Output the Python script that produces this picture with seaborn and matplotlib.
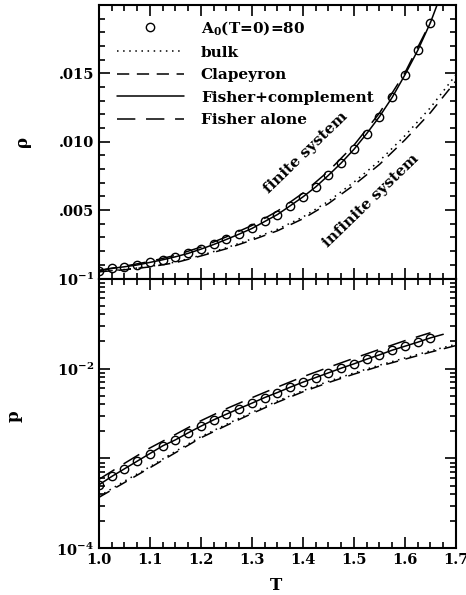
import numpy as np
import pandas as pd
import matplotlib
matplotlib.use("Agg")
import matplotlib.pyplot as plt
import seaborn as sns
from matplotlib.ticker import FixedLocator, MultipleLocator, LogLocator, FuncFormatter, NullFormatter

# ---------------- data ----------------
T_data = [1.000, 1.025, 1.050, 1.075, 1.100, 1.125, 1.150, 1.175, 1.200, 1.225,
          1.250, 1.275, 1.300, 1.325, 1.350, 1.375, 1.400, 1.425, 1.450, 1.475,
          1.500, 1.525, 1.550, 1.575, 1.600, 1.625, 1.650]
rho_data = [0.00057, 0.00074, 0.00086, 0.00099, 0.00118, 0.00137, 0.00159, 0.00184,
            0.00215, 0.00249, 0.00286, 0.00325, 0.00366, 0.00417, 0.00468, 0.00532,
            0.00597, 0.00670, 0.00755, 0.00845, 0.00945, 0.01060, 0.01184, 0.01325,
            0.01490, 0.01668, 0.01872]
p_data = [5.10e-4, 6.31e-4, 7.68e-4, 9.34e-4, 1.136e-3, 1.382e-3, 1.612e-3, 1.93e-3,
          2.287e-3, 2.69e-3, 3.11e-3, 3.59e-3, 4.12e-3, 4.76e-3, 5.41e-3, 6.20e-3,
          7.05e-3, 7.94e-3, 8.95e-3, 1.0085e-2, 1.127e-2, 1.27e-2, 1.419e-2, 1.598e-2,
          1.77e-2, 1.96e-2, 2.19e-2]

# Fisher + complement (solid)
T_fc = T_data + [1.675]
rho_fc = rho_data + [0.0212]
p_fc = p_data + [2.40e-2]

# Fisher alone (long dash)
T_fa = [1.00, 1.05, 1.10, 1.15, 1.20, 1.25, 1.30, 1.35, 1.40, 1.45, 1.50, 1.55, 1.60, 1.65]
rho_fa = [0.00060, 0.00090, 0.00125, 0.00170, 0.00230, 0.00305, 0.00388, 0.00493,
          0.00625, 0.00785, 0.00975, 0.01210, 0.01505, 0.01875]
p_fa = [5.87e-4, 8.83e-4, 1.31e-3, 1.85e-3, 2.63e-3, 3.58e-3, 4.74e-3, 6.22e-3,
        8.10e-3, 1.03e-2, 1.30e-2, 1.63e-2, 2.04e-2, 2.50e-2]

# infinite system: bulk (dotted) and Clapeyron (dashed)
T_inf = [1.00, 1.05, 1.10, 1.15, 1.20, 1.25, 1.30, 1.35, 1.40, 1.45, 1.50, 1.55, 1.60, 1.65, 1.70]
rho_bulk = [0.00050, 0.00066, 0.00088, 0.00120, 0.00170, 0.00225, 0.00290, 0.00360,
            0.00450, 0.00565, 0.00705, 0.00860, 0.01045, 0.01250, 0.01490]
rho_clap = [0.00049, 0.00064, 0.00085, 0.00116, 0.00165, 0.00218, 0.00281, 0.00349,
            0.00437, 0.00548, 0.00684, 0.00834, 0.01014, 0.01213, 0.01445]
p_bulk = [3.8e-4, 5.6e-4, 8.1e-4, 1.20e-3, 1.75e-3, 2.40e-3, 3.26e-3, 4.35e-3,
          5.68e-3, 7.20e-3, 8.93e-3, 1.09e-2, 1.31e-2, 1.57e-2, 1.86e-2]
p_clap = [3.7e-4, 5.4e-4, 7.9e-4, 1.16e-3, 1.70e-3, 2.33e-3, 3.16e-3, 4.22e-3,
          5.51e-3, 6.98e-3, 8.66e-3, 1.06e-2, 1.27e-2, 1.52e-2, 1.80e-2]

labels = ["A$_0$(T=0)=80", "bulk", "Clapeyron", "Fisher+complement", "Fisher alone"]
rho_ticks = [0.0, 0.005, 0.010, 0.015, 0.020]
rho_ticklabels = ["", ".005", ".010", ".015", ""]
x_ticks = [1.0, 1.1, 1.2, 1.3, 1.4, 1.5, 1.6, 1.7]

# ---------------- style ----------------
sns.set_style("ticks")
plt.rcParams.update({
    "font.family": ["DejaVu Serif"],
    "font.weight": "bold",
    "mathtext.fontset": "dejavuserif",
    "mathtext.default": "bf",
    "axes.linewidth": 1.5,
    "axes.edgecolor": "black",
    "axes.labelcolor": "black",
    "text.color": "black",
    "xtick.color": "black",
    "ytick.color": "black",
    "xtick.direction": "in",
    "ytick.direction": "in",
})

FS = 11
DOT = (0, (1, 3))
SDASH = (0, (8, 5))
LDASH = (0, (12, 7))

fig = plt.figure(figsize=(4.66, 5.95), dpi=100)
ax1 = fig.add_axes([0.2124, 0.5319, 0.7661, 0.4597])
ax2 = fig.add_axes([0.2124, 0.0782, 0.7661, 0.4537])


def draw(ax, y_data, y_bulk, y_clap, y_fc, y_fa):
    sns.lineplot(x=T_data, y=y_data, ax=ax, color="k", linestyle="none", marker="o",
                 markersize=6, markerfacecolor="none", markeredgecolor="k",
                 markeredgewidth=1.0, label=labels[0], estimator=None, sort=False)
    sns.lineplot(x=T_inf, y=y_bulk, ax=ax, color="k", lw=1.1, linestyle=DOT,
                 label=labels[1], estimator=None, sort=False)
    sns.lineplot(x=T_inf, y=y_clap, ax=ax, color="k", lw=1.1, linestyle=SDASH,
                 label=labels[2], estimator=None, sort=False)
    sns.lineplot(x=T_fc, y=y_fc, ax=ax, color="k", lw=1.1, linestyle="-",
                 label=labels[3], estimator=None, sort=False)
    sns.lineplot(x=T_fa, y=y_fa, ax=ax, color="k", lw=1.1, linestyle=LDASH,
                 label=labels[4], estimator=None, sort=False)


draw(ax1, rho_data, rho_bulk, rho_clap, rho_fc, rho_fa)
draw(ax2, p_data, p_bulk, p_clap, p_fc, p_fa)

# ---------------- top panel ----------------
ax1.set_xlim(1.0, 1.7)
ax1.set_ylim(0.0, 0.020)
ax1.xaxis.set_major_locator(FixedLocator(x_ticks))
ax1.xaxis.set_minor_locator(MultipleLocator(0.025))
ax1.yaxis.set_major_locator(FixedLocator(rho_ticks))
ax1.set_yticklabels(rho_ticklabels)
ax1.yaxis.set_minor_locator(MultipleLocator(0.001))
ax1.tick_params(which="both", top=True, right=True, bottom=True, left=True,
                labelbottom=False, labelsize=10.5, width=1.2)
ax1.tick_params(which="major", length=8)
ax1.tick_params(which="minor", length=4)
ax1.set_xlabel("")
ax1.set_ylabel("ρ", fontsize=12, fontweight="bold")
ax1.yaxis.set_label_coords(-0.19, 0.5)

h, l = ax1.get_legend_handles_labels()
ax1.legend(h, l, loc="upper left", bbox_to_anchor=(0.05, 0.948), frameon=False,
           fontsize=FS, handlelength=4.4, handletextpad=1.1, labelspacing=0.56,
           borderpad=0, borderaxespad=0)

ax1.text(1.405, 0.00923, "finite system", rotation=44, rotation_mode="anchor",
         ha="center", va="center", fontsize=FS, fontweight="bold")
ax1.text(1.533, 0.00568, "infinite system", rotation=44, rotation_mode="anchor",
         ha="center", va="center", fontsize=FS, fontweight="bold")

# ---------------- bottom panel ----------------
ax2.set_yscale("log")
ax2.set_xlim(1.0, 1.7)
ax2.set_ylim(1e-4, 1e-1)
ax2.xaxis.set_major_locator(FixedLocator(x_ticks))
ax2.xaxis.set_minor_locator(MultipleLocator(0.025))
ax2.xaxis.set_major_formatter(FuncFormatter(lambda v, pos: f"{v:.1f}"))
ax2.yaxis.set_major_locator(LogLocator(base=10))
ax2.yaxis.set_minor_locator(LogLocator(base=10, subs=np.arange(2, 10)))
ax2.yaxis.set_minor_formatter(NullFormatter())


def pfmt(v, pos):
    e = int(round(np.log10(v)))
    if e in (-1, -2, -4):
        return r"$10^{%d}$" % e
    return ""


ax2.yaxis.set_major_formatter(FuncFormatter(pfmt))
ax2.tick_params(which="both", top=True, right=True, bottom=True, left=True,
                labeltop=False, labelsize=10.5, width=1.2)
ax2.tick_params(which="major", length=8)
ax2.tick_params(which="minor", length=4)
ax2.legend_.remove()
ax2.set_xlabel("T", fontsize=12, fontweight="bold")
ax2.xaxis.set_label_coords(0.496, -0.105)
ax2.set_ylabel("p", fontsize=12, fontweight="bold")
ax2.yaxis.set_label_coords(-0.215, 0.49)

fig.savefig("out.png", dpi=100)
